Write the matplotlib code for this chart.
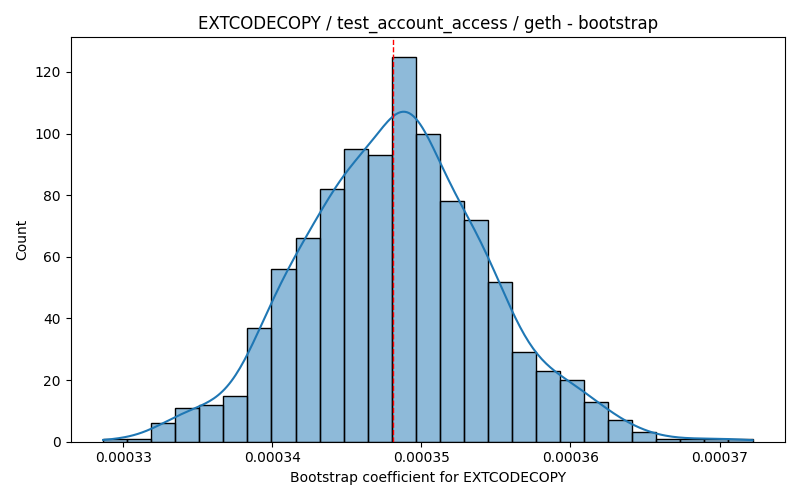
import numpy as np
import matplotlib
matplotlib.use("Agg")
import matplotlib.pyplot as plt
from matplotlib.colors import to_rgba

# histogram of bootstrap coefficients
counts = [1, 1, 6, 11, 12, 15, 37, 56, 66, 82, 95, 93, 125, 100,
          78, 72, 52, 29, 23, 20, 13, 7, 3, 1, 1, 1, 1]
data_min = 0.00032866
data_max = 0.00037221
estimate = 0.00034812   # point estimate (red dashed line)

metric = "EXTCODECOPY"
test_name = "test_account_access"
client = "geth"

edges = np.linspace(data_min, data_max, len(counts) + 1)
centers = (edges[:-1] + edges[1:]) / 2
counts = np.array(counts, dtype=float)
width = edges[1] - edges[0]

fig, ax = plt.subplots(figsize=(8, 5), dpi=100)
ax.bar(centers, counts, width=width, color=to_rgba("C0", 0.5),
       edgecolor="black", linewidth=1)

# gaussian kde (scott bandwidth) scaled to counts
n = counts.sum()
mean = np.sum(counts * centers) / n
std = np.sqrt(np.sum(counts * (centers - mean) ** 2) / (n - 1))
bw = std * n ** (-1 / 5)
xs = np.linspace(data_min, data_max, 300)
dens = np.sum(counts[None, :] * np.exp(-0.5 * ((xs[:, None] - centers[None, :]) / bw) ** 2), axis=1)
dens = dens / (n * bw * np.sqrt(2 * np.pi))
ax.plot(xs, dens * n * width, color="C0", linewidth=1.5)

ax.axvline(estimate, color="red", linestyle="--", linewidth=1)

ax.set_title(f"{metric} / {test_name} / {client} - bootstrap")
ax.set_xlabel(f"Bootstrap coefficient for {metric}")
ax.set_ylabel("Count")

plt.tight_layout()
plt.savefig("out.png")
